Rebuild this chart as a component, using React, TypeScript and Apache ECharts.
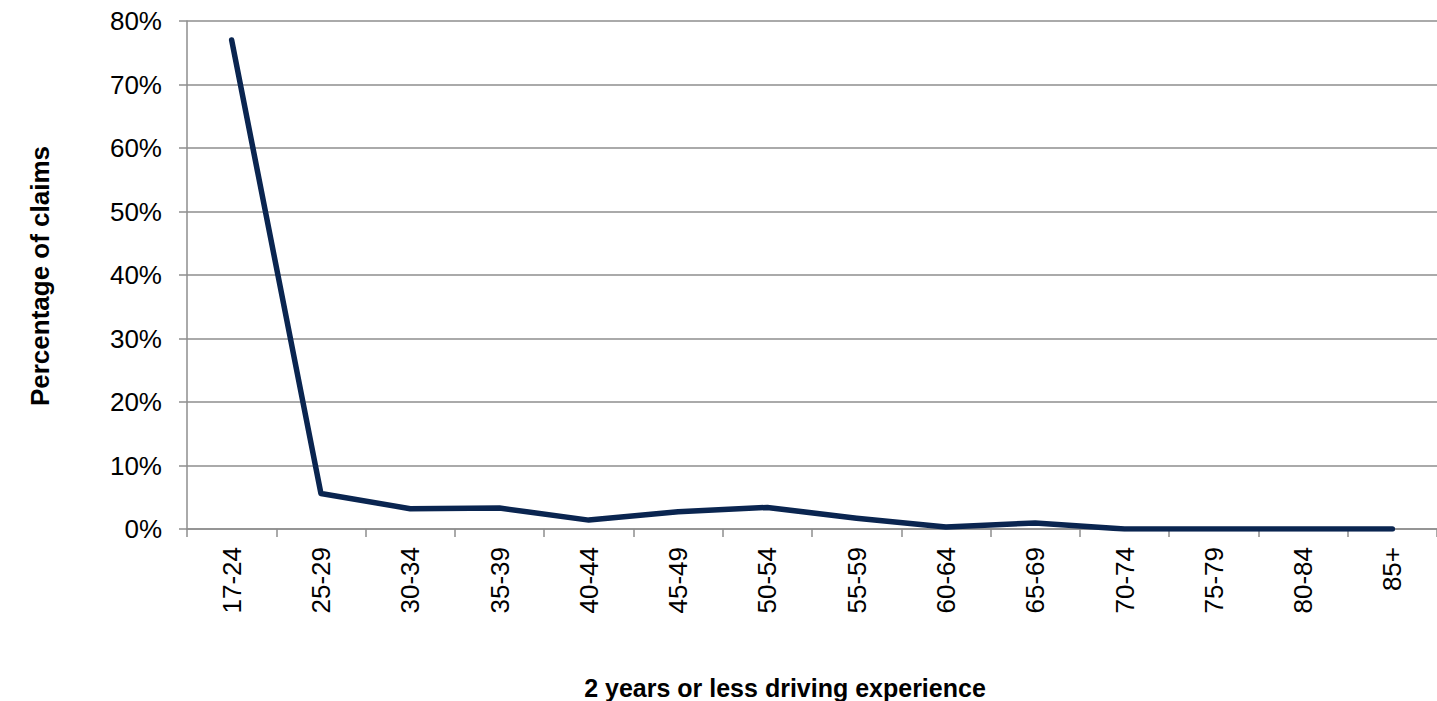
import React, { useEffect, useRef } from "react";
import * as echarts from "echarts";

const categories = ["17-24", "25-29", "30-34", "35-39", "40-44", "45-49", "50-54", "55-59", "60-64", "65-69", "70-74", "75-79", "80-84", "85+"];
const claimsPct = [77.0, 5.6, 3.2, 3.3, 1.4, 2.7, 3.4, 1.7, 0.3, 0.95, 0, 0, 0, 0];
const yTicks = { min: 0, max: 80, interval: 10 };
const xAxisTitle = "2 years or less driving experience";
const yAxisTitle = "Percentage of claims";

export default function App() {
  const ref = useRef<HTMLDivElement>(null);
  useEffect(() => {
    if (!ref.current) return;
    const chart = echarts.init(ref.current, null, { renderer: "svg" });
    const font = "Liberation Sans, Arial, sans-serif";
    const gridColor = "#8e8e8e";
    chart.setOption({
      animation: false,
      backgroundColor: "#ffffff",
      grid: { left: 187, top: 21, bottom: 172, right: -13, containLabel: false },
      xAxis: {
        type: "category",
        data: categories,
        boundaryGap: true,
        axisLine: { show: true, lineStyle: { color: gridColor, width: 1.5 } },
        axisTick: { show: true, interval: 0, length: 8, lineStyle: { color: gridColor, width: 1.5 } },
        axisLabel: { interval: 0, rotate: 90, margin: 18, color: "#000", fontSize: 26, fontFamily: font },
        splitLine: { show: false },
      },
      yAxis: {
        type: "value",
        min: yTicks.min,
        max: yTicks.max,
        interval: yTicks.interval,
        axisLine: { show: true, lineStyle: { color: gridColor, width: 1.5 } },
        axisTick: { show: true, length: 8, lineStyle: { color: gridColor, width: 1.5 } },
        axisLabel: { formatter: "{value}%", margin: 25, color: "#000", fontSize: 26, fontFamily: font },
        splitLine: { show: true, lineStyle: { color: gridColor, width: 1.5 } },
      },
      graphic: [
        {
          type: "text",
          x: 785,
          y: 688,
          style: { text: xAxisTitle, fill: "#000", font: `bold 25px ${font}`, textAlign: "center", textVerticalAlign: "middle" },
        },
        {
          type: "text",
          x: 40,
          y: 276,
          rotation: Math.PI / 2,
          style: { text: yAxisTitle, fill: "#000", font: `bold 26px ${font}`, textAlign: "center", textVerticalAlign: "middle" },
        },
      ],
      series: [
        {
          type: "line",
          data: claimsPct,
          symbol: "none",
          lineStyle: { color: "#0a2550", width: 5.5, cap: "round", join: "round" },
        },
      ],
    });
    return () => chart.dispose();
  }, []);
  return <div ref={ref} style={{ position: "absolute", left: 0, top: 0, width: 1437, height: 701 }} />;
}
